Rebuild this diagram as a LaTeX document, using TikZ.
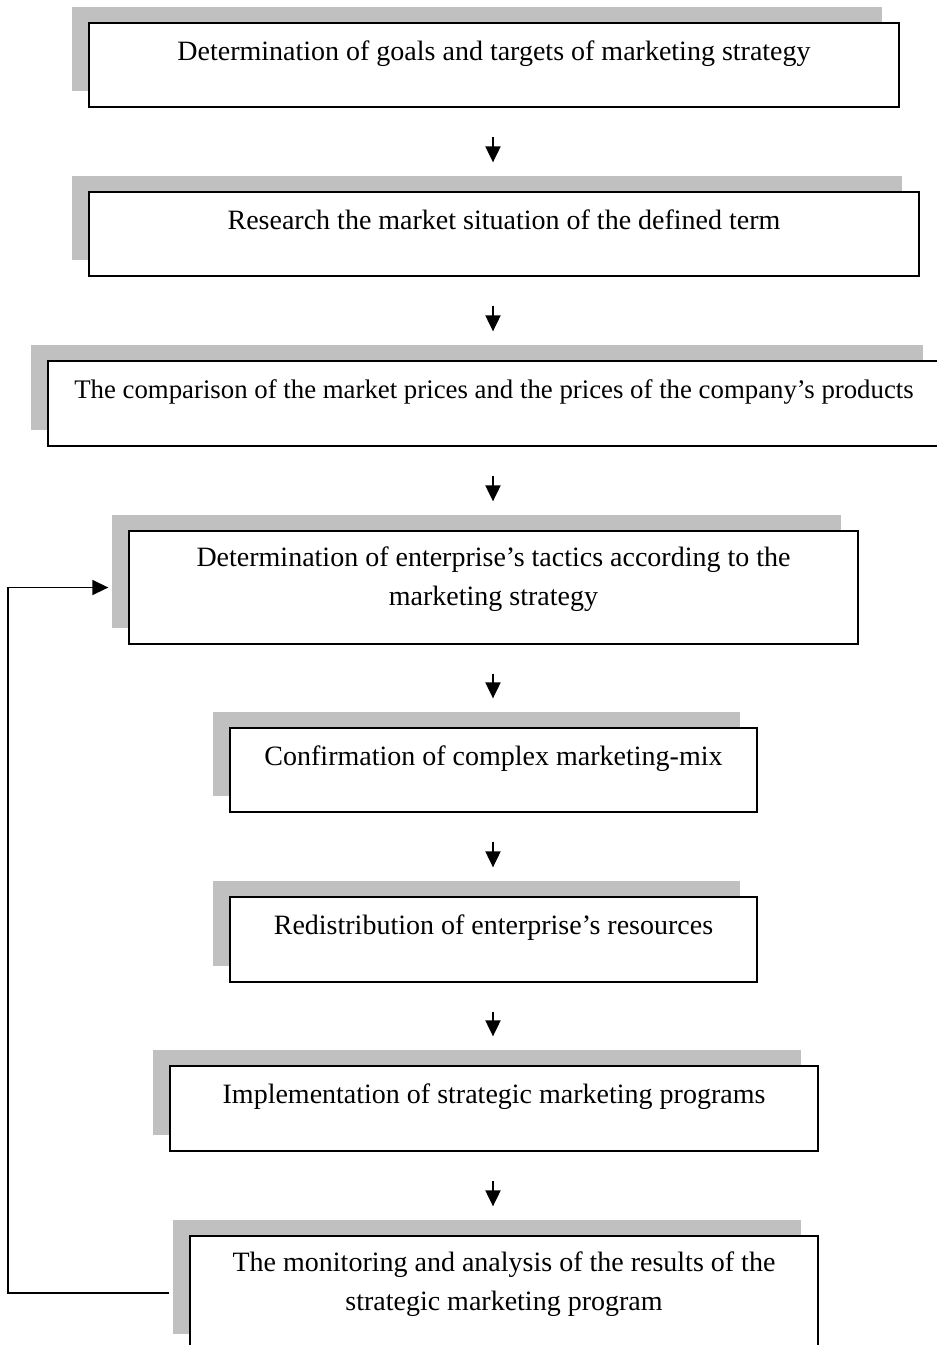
\documentclass[tikz,border=0pt]{standalone}
\usepackage{fontspec}
\setmainfont{Liberation Serif}
\usetikzlibrary{arrows.meta, shadows, positioning}
\definecolor{shadowgrey}{RGB}{192, 192, 192}

\begin{document}
\begin{tikzpicture}[
    x=1pt, y=-1pt,
    >={Triangle[length=16pt, width=15pt]},
    stepbox/.style={draw=black, line width=1.3pt, fill=white, inner sep=0pt,
        general shadow={fill=shadowgrey, shadow xshift=-17pt, shadow yshift=16pt},
        font=\fontsize{28}{39}\selectfont, align=center, text height=37pt, text depth=47pt},
    flow/.style={->, line width=2pt, shorten <=29pt, shorten >=29pt},
    feedback/.style={->, line width=1.5pt, shorten <=20pt, shorten >=20pt}
]
    \path[use as bounding box, clip] (0,0) rectangle (937,1345);

    \node[stepbox, minimum width=810pt, minimum height=84pt] (s1) at (494,65)
        {Determination of goals and targets of marketing strategy};
    \node[stepbox, minimum width=830pt, minimum height=84pt] (s2) at (504,234)
        {Research the market situation of the defined term};
    \node[stepbox, minimum width=892pt, minimum height=85pt, font=\fontsize{26.8}{39}\selectfont] (s3) at (494,403.5)
        {The comparison of the market prices and the prices of the company’s products};
    \node[stepbox, minimum width=729pt, minimum height=113pt, text height=74pt, text depth=39pt] (s4) at (493.5,587.5)
        {Determination of enterprise’s tactics according to the\\marketing strategy};
    \node[stepbox, minimum width=527pt, minimum height=84pt] (s5) at (493.5,770)
        {Confirmation of complex marketing-mix};
    \node[stepbox, minimum width=527pt, minimum height=85pt] (s6) at (493.5,939.5)
        {Redistribution of enterprise’s resources};
    \node[stepbox, minimum width=648pt, minimum height=85pt] (s7) at (494,1108.5)
        {Implementation of strategic marketing programs};
    \node[stepbox, minimum width=628pt, minimum height=114pt, text height=74pt, text depth=40pt] (s8) at (504,1293)
        {The monitoring and analysis of the results of the\\strategic marketing program};

    % arrows between the steps
    \coordinate (axis) at (493,0);
    \draw[flow] (axis |- s1.south) -- (axis |- s2.north);
    \draw[flow] (axis |- s2.south) -- (axis |- s3.north);
    \draw[flow] (axis |- s3.south) -- (axis |- s4.north);
    \draw[flow] (axis |- s4.south) -- (axis |- s5.north);
    \draw[flow] (axis |- s5.south) -- (axis |- s6.north);
    \draw[flow] (axis |- s6.south) -- (axis |- s7.north);
    \draw[flow] (axis |- s7.south) -- (axis |- s8.north);

    % loop back
    \coordinate (loopx) at (8,0);
    \draw[feedback] (s8.west) -- (s8.west -| loopx) |- (s4.west);
\end{tikzpicture}
\end{document}
